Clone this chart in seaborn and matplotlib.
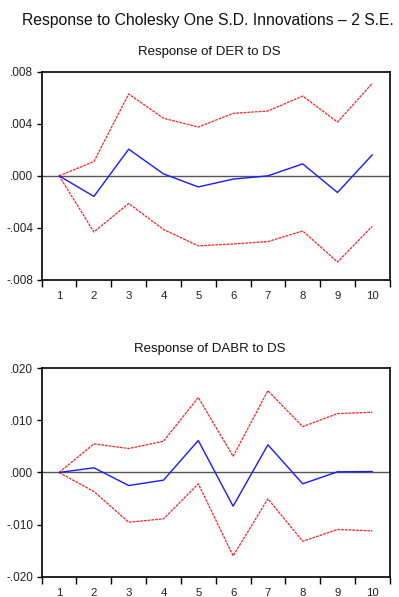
import numpy as np
import pandas as pd
import matplotlib
matplotlib.use("Agg")
import matplotlib.pyplot as plt
from matplotlib.ticker import FixedLocator, FuncFormatter
import seaborn as sns

sns.set_theme(style="white")
plt.rcParams["font.family"] = ["Liberation Sans", "DejaVu Sans"]

periods = list(range(1, 11))

# Response of DER to DS
der_resp = [0.0, -0.00158, 0.00205, 0.00015, -0.00085, -0.00025, 0.0, 0.00092, -0.00128, 0.00162]
der_upper = [0.0, 0.0011, 0.00629, 0.00442, 0.00375, 0.0048, 0.00498, 0.00613, 0.00413, 0.00711]
der_lower = [0.0, -0.00431, -0.00212, -0.00412, -0.00538, -0.00523, -0.00505, -0.00423, -0.00662, -0.00387]

# Response of DABR to DS
dabr_resp = [0.0, 0.0009, -0.0025, -0.00147, 0.00614, -0.00647, 0.00532, -0.00217, 0.00013, 0.00019]
dabr_upper = [0.0, 0.0055, 0.0046, 0.006, 0.0144, 0.0031, 0.0157, 0.0088, 0.0113, 0.01157]
dabr_lower = [0.0, -0.00365, -0.00954, -0.0089, -0.00217, -0.016, -0.00505, -0.0132, -0.01094, -0.0112]

der_ticks = [-0.008, -0.004, 0.0, 0.004, 0.008]
dabr_ticks = [-0.020, -0.010, 0.0, 0.010, 0.020]


def fmt(v, _pos=None):
    s = f"{v:.3f}"
    if s.startswith("-0"):
        return "-" + s[2:]
    if s.startswith("0"):
        return s[1:]
    return s


def panel(ax, title, resp, upper, lower, yticks):
    df = pd.DataFrame({"period": periods, "resp": resp, "upper": upper, "lower": lower})
    ax.axhline(0, color="#555555", lw=1.0, zorder=1)
    sns.lineplot(data=df, x="period", y="upper", ax=ax, color="#ff2020", lw=0.9,
                 linestyle=(0, (2.2, 0.8)), zorder=2)
    sns.lineplot(data=df, x="period", y="lower", ax=ax, color="#ff2020", lw=0.9,
                 linestyle=(0, (2.2, 0.8)), zorder=2)
    sns.lineplot(data=df, x="period", y="resp", ax=ax, color="#1a1aff", lw=1.0, zorder=3)
    ax.set_xlim(0.5, 10.5)
    ax.set_ylim(yticks[0], yticks[-1])
    ax.set_xlabel("")
    ax.set_ylabel("")
    ax.set_title(title, fontsize=9.5, color="#111111", pad=12, x=0.482)
    ax.xaxis.set_major_locator(FixedLocator(np.arange(0.5, 11.0, 1.0)))
    ax.xaxis.set_minor_locator(FixedLocator(periods))
    ax.xaxis.set_major_formatter(FuncFormatter(lambda v, p: ""))
    ax.xaxis.set_minor_formatter(FuncFormatter(lambda v, p: f"{int(round(v))}"))
    ax.tick_params(axis="x", which="major", direction="out", length=5, width=1.0,
                   color="black", bottom=True)
    ax.tick_params(axis="x", which="minor", length=0, labelsize=8.2, pad=8,
                   labelcolor="#222222")
    ax.set_yticks(yticks)
    ax.yaxis.set_major_formatter(FuncFormatter(fmt))
    ax.tick_params(axis="y", direction="out", length=3.5, width=1.0, color="black",
                   left=True, labelsize=8.5, labelcolor="#222222", pad=2.5)
    for sp in ax.spines.values():
        sp.set_visible(True)
        sp.set_color("black")
        sp.set_linewidth(1.2)


fig = plt.figure(figsize=(3.99, 5.97), dpi=100)
ax1 = fig.add_axes([0.1045, 0.531, 0.8722, 0.3489])
ax2 = fig.add_axes([0.1045, 0.034, 0.8722, 0.3491])

panel(ax1, "Response of DER to DS", der_resp, der_upper, der_lower, der_ticks)
panel(ax2, "Response of DABR to DS", dabr_resp, dabr_upper, dabr_lower, dabr_ticks)

fig.text(22 / 399, 0.966, "Response to Cholesky One S.D. Innovations \u2013 2 S.E.",
         ha="left", va="center", fontsize=11.35, color="#111111")

fig.savefig("out.png", dpi=100)
